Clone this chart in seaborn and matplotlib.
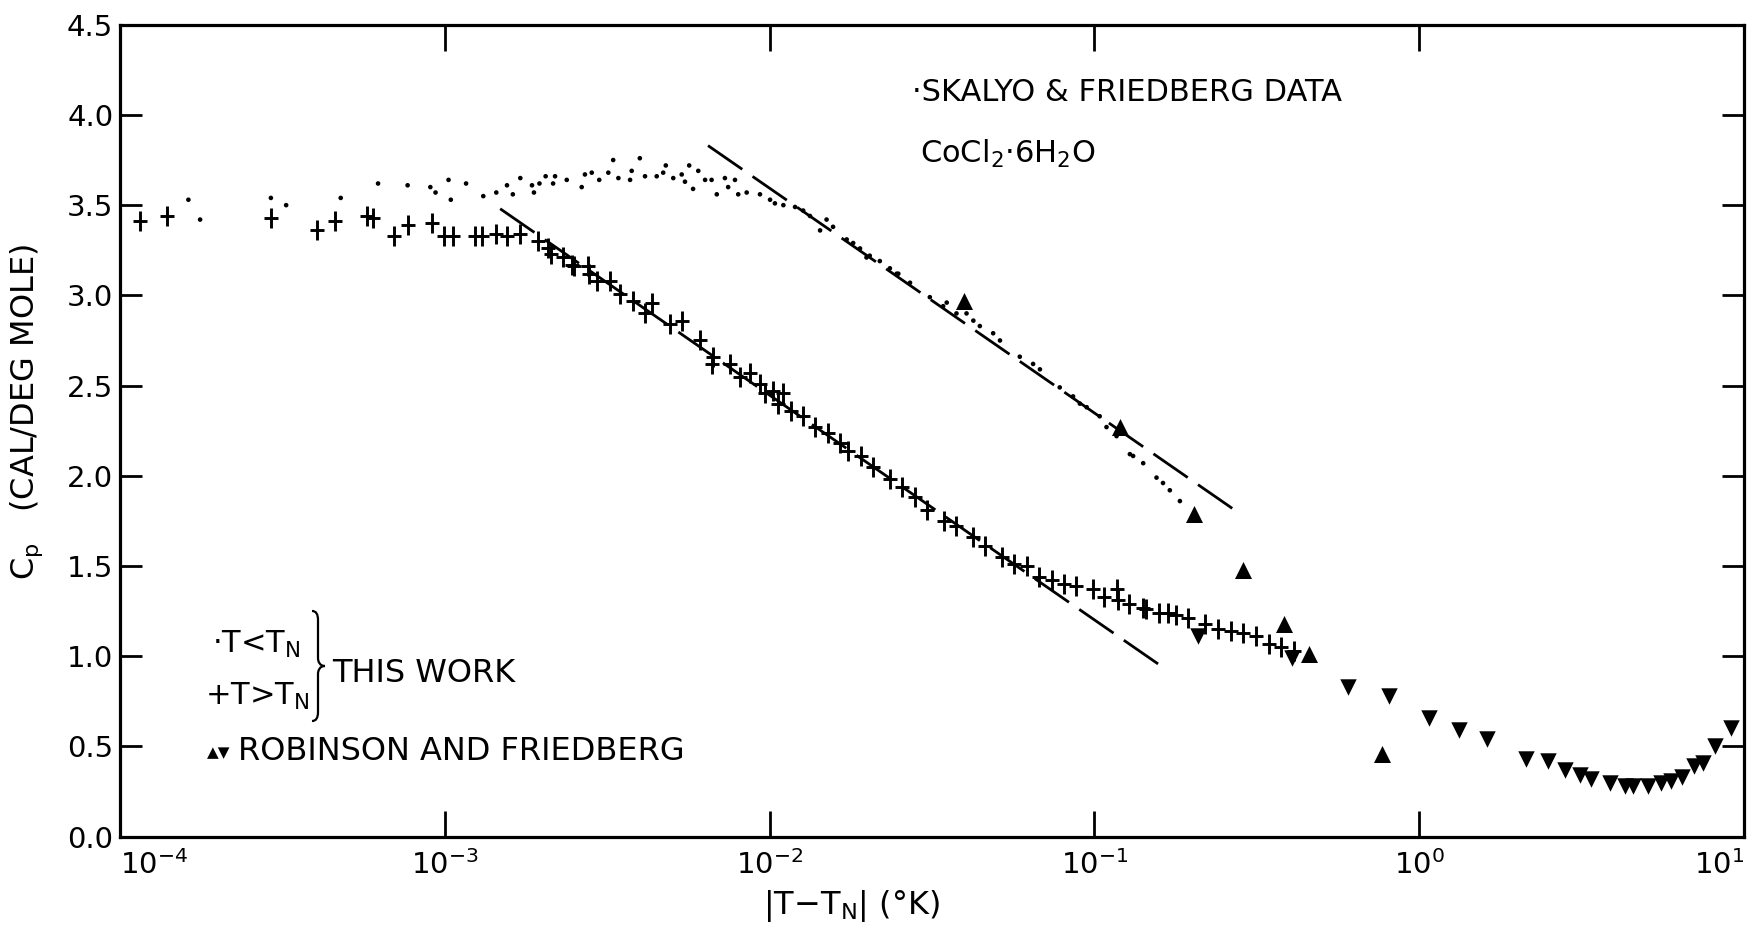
import numpy as np
import matplotlib
matplotlib.use("Agg")
import matplotlib.pyplot as plt
import seaborn as sns
from matplotlib.path import Path
from matplotlib.patches import PathPatch
from matplotlib.ticker import FixedLocator, NullLocator, FormatStrFormatter

# ---------------- data ----------------
# T < T_N  (this work, dots): log10|T-T_N| and Cp
below_log = [-3.790, -3.754, -3.536, -3.489, -3.321, -3.206, -3.115, -3.045, -3.029, -2.989,
             -2.982, -2.935, -2.882, -2.842, -2.809, -2.791, -2.768, -2.732, -2.726, -2.709,
             -2.690, -2.667, -2.661, -2.625, -2.579, -2.569, -2.548, -2.525, -2.497, -2.482,
             -2.466, -2.430, -2.425, -2.400, -2.384, -2.348, -2.328, -2.320, -2.297, -2.271,
             -2.261, -2.248, -2.236, -2.220, -2.199, -2.179, -2.163, -2.138, -2.128, -2.107,
             -2.097, -2.071, -2.030, -1.999, -1.984, -1.958, -1.922, -1.897, -1.876, -1.845,
             -1.825, -1.805, -1.763, -1.743, -1.722, -1.702, -1.692, -1.661, -1.630, -1.609,
             -1.604, -1.568, -1.507, -1.466, -1.455, -1.425, -1.394, -1.373, -1.353, -1.312,
             -1.291, -1.230, -1.189, -1.168, -1.107, -1.066, -1.045, -1.024, -0.984, -0.963,
             -0.932, -0.891, -0.881, -0.850, -0.809, -0.789, -0.768, -0.737]
below_cp = [3.53, 3.42, 3.54, 3.50, 3.54, 3.62, 3.61, 3.60, 3.57, 3.64,
            3.53, 3.62, 3.55, 3.57, 3.61, 3.56, 3.65, 3.61, 3.57, 3.62,
            3.66, 3.62, 3.66, 3.64, 3.60, 3.67, 3.68, 3.64, 3.68, 3.75,
            3.65, 3.64, 3.69, 3.76, 3.66, 3.66, 3.68, 3.72, 3.65, 3.67,
            3.63, 3.72, 3.59, 3.69, 3.64, 3.64, 3.56, 3.65, 3.60, 3.64,
            3.56, 3.57, 3.56, 3.53, 3.51, 3.50, 3.49, 3.47, 3.44, 3.36,
            3.42, 3.38, 3.31, 3.29, 3.26, 3.21, 3.22, 3.19, 3.15, 3.12,
            3.12, 3.07, 2.99, 2.94, 2.96, 2.90, 2.90, 2.86, 2.83, 2.79,
            2.75, 2.66, 2.62, 2.59, 2.49, 2.44, 2.40, 2.38, 2.33, 2.27,
            2.22, 2.12, 2.11, 2.07, 1.99, 1.96, 1.92, 1.86]

# T > T_N  (this work, crosses)
above_log = [-3.940, -3.855, -3.536, -3.394, -3.339, -3.239, -3.221, -3.156, -3.115, -3.039,
             -3.003, -2.974, -2.909, -2.885, -2.844, -2.809, -2.768, -2.715, -2.682, -2.673,
             -2.636, -2.610, -2.603, -2.559, -2.555, -2.533, -2.492, -2.461, -2.420, -2.384,
             -2.364, -2.307, -2.271, -2.215, -2.179, -2.174, -2.123, -2.090, -2.061, -2.030,
             -2.013, -1.989, -1.975, -1.958, -1.936, -1.898, -1.860, -1.821, -1.783, -1.758,
             -1.720, -1.681, -1.630, -1.592, -1.554, -1.515, -1.464, -1.426, -1.375, -1.336,
             -1.285, -1.247, -1.209, -1.171, -1.132, -1.094, -1.056, -1.005, -0.970, -0.931,
             -0.928, -0.893, -0.851, -0.841, -0.802, -0.775, -0.750, -0.711, -0.659, -0.620,
             -0.581, -0.542, -0.503, -0.464, -0.425, -0.386]
above_cp = [3.41, 3.44, 3.43, 3.36, 3.41, 3.44, 3.43, 3.33, 3.39, 3.40,
            3.33, 3.33, 3.33, 3.33, 3.34, 3.33, 3.34, 3.30, 3.26, 3.23,
            3.21, 3.17, 3.16, 3.16, 3.12, 3.08, 3.08, 3.01, 2.97, 2.90,
            2.96, 2.84, 2.86, 2.75, 2.62, 2.66, 2.62, 2.55, 2.57, 2.51,
            2.46, 2.47, 2.40, 2.46, 2.36, 2.33, 2.27, 2.24, 2.18, 2.14,
            2.11, 2.05, 1.98, 1.94, 1.88, 1.81, 1.75, 1.72, 1.66, 1.61,
            1.55, 1.51, 1.50, 1.44, 1.42, 1.40, 1.39, 1.37, 1.33, 1.37,
            1.31, 1.29, 1.27, 1.26, 1.24, 1.24, 1.23, 1.21, 1.18, 1.15,
            1.14, 1.13, 1.11, 1.07, 1.05, 1.03]

# Robinson and Friedberg: up triangles (T < T_N), down triangles (T > T_N)
rf_up_log = [-1.403, -0.922, -0.695, -0.542, -0.416, -0.338, -0.114]
rf_up_cp = [2.97, 2.27, 1.79, 1.48, 1.18, 1.01, 0.46]
rf_down_log = [-0.682, -0.393, -0.218, -0.094, 0.029, 0.123, 0.208, 0.328, 0.395, 0.448,
               0.496, 0.529, 0.587, 0.633, 0.659, 0.704, 0.743, 0.775, 0.808, 0.847,
               0.875, 0.912, 0.960]
rf_down_cp = [1.11, 0.99, 0.83, 0.78, 0.66, 0.59, 0.54, 0.43, 0.42, 0.37,
              0.34, 0.32, 0.30, 0.28, 0.28, 0.28, 0.30, 0.31, 0.33, 0.39,
              0.41, 0.50, 0.60]

# dashed logarithmic fit lines (end points)
fit_upper_log = [-2.19, -0.56]
fit_upper_cp = [3.83, 1.80]
fit_lower_log = [-2.83, -0.774]
fit_lower_cp = [3.48, 0.92]

x_ticks = [1e-4, 1e-3, 1e-2, 1e-1, 1e0, 1e1]
x_ticklabels = [r"$10^{-4}$", r"$10^{-3}$", r"$10^{-2}$", r"$10^{-1}$", r"$10^{0}$", r"$10^{1}$"]
y_ticks = [0.0, 0.5, 1.0, 1.5, 2.0, 2.5, 3.0, 3.5, 4.0, 4.5]

# ---------------- figure ----------------
sns.set_style("ticks")
plt.rcParams['font.family'] = ['DejaVu Sans']
plt.rcParams['mathtext.fontset'] = 'dejavusans'
for key in ['text.color', 'axes.labelcolor', 'xtick.color', 'ytick.color',
            'xtick.labelcolor', 'ytick.labelcolor', 'axes.edgecolor']:
    plt.rcParams[key] = 'black'

W, H = 1761, 927
fig = plt.figure(figsize=(W / 100, H / 100), dpi=100)
ax = fig.add_axes([120.2 / W, 1 - 836.7 / H, 1623.8 / W, 812 / H])
ax.set_xscale('log')
ax.set_xlim(1e-4, 10)
ax.set_ylim(0, 4.5)

def tx(v):
    return 10.0 ** np.asarray(v)

# fits
for lg, cp in [(fit_upper_log, fit_upper_cp), (fit_lower_log, fit_lower_cp)]:
    sns.lineplot(x=tx(lg), y=cp, ax=ax, color='black', linewidth=2.0,
                 linestyle=(0, (15, 4.5)), estimator=None, sort=False)

# T < T_N dots
sns.scatterplot(x=tx(below_log), y=below_cp, ax=ax, marker='o', s=11,
                color='black', edgecolor='none', linewidth=0)
# T > T_N crosses (long vertical stroke, short horizontal)
sns.scatterplot(x=tx(above_log), y=above_cp, ax=ax, marker='|', s=200,
                color='black', linewidth=2.1)
sns.scatterplot(x=tx(above_log), y=above_cp, ax=ax, marker='_', s=90,
                color='black', linewidth=2.1)
# Robinson & Friedberg
sns.scatterplot(x=tx(rf_up_log), y=rf_up_cp, ax=ax, marker='^', s=150,
                color='black', edgecolor='black', linewidth=0)
sns.scatterplot(x=tx(rf_down_log), y=rf_down_cp, ax=ax, marker='v', s=140,
                color='black', edgecolor='black', linewidth=0)

# axes styling
ax.xaxis.set_major_locator(FixedLocator(x_ticks))
ax.xaxis.set_minor_locator(NullLocator())
ax.set_xticklabels(x_ticklabels)
ax.set_yticks(y_ticks)
ax.yaxis.set_major_formatter(FormatStrFormatter('%.1f'))
ax.tick_params(which='major', direction='in', top=True, right=True,
               width=2.0, labelsize=21, colors='black')
ax.tick_params(axis='x', length=19, pad=10)
ax.tick_params(axis='y', length=16, pad=5)
# the last x label sits against the right edge, as in the original
xl = ax.get_xticklabels()
xl[-1].set_horizontalalignment('right')
xl[0].set_horizontalalignment('left')
for sp in ax.spines.values():
    sp.set_linewidth(2.3)
    sp.set_color('black')

ax.set_xlabel(r"|T$-$T$_\mathregular{N}$| (°K)", fontsize=23)
ax.xaxis.set_label_coords((851 - 120.2) / 1623.8, (836.7 - 888) / 812)
ax.set_ylabel(r"C$_\mathregular{p}$   (CAL/DEG MOLE)", fontsize=23)
ax.yaxis.set_label_coords((45 - 120.2) / 1623.8, (836.7 - 412) / 812)

def fp(px, py):
    return px / W, 1 - py / H

fig.text(*fp(912, 101), "·SKALYO & FRIEDBERG DATA", fontsize=22, ha='left', va='baseline')
fig.text(*fp(920, 163), r"CoCl$_\mathregular{2}$·6H$_\mathregular{2}$O", fontsize=22,
         ha='left', va='baseline')
fig.text(*fp(212, 653), r"·T<T$_\mathregular{N}$", fontsize=22, ha='left', va='baseline')
fig.text(*fp(205, 705), r"+T>T$_\mathregular{N}$", fontsize=22, ha='left', va='baseline')
fig.text(*fp(332, 682), "THIS WORK", fontsize=23, ha='left', va='baseline')
fig.text(*fp(207, 757), "▲▼", fontsize=11, ha='left', va='baseline')
fig.text(*fp(238, 760), "ROBINSON AND FRIEDBERG", fontsize=23, ha='left', va='baseline')

# curly brace
bp = [(312, 611), (316, 611), (318, 614), (318, 620),
      (318, 658),
      (318, 662), (320, 666), (325, 666),
      (320, 666), (318, 670), (318, 674),
      (318, 712),
      (318, 718), (316, 721), (312, 721)]
codes = [Path.MOVETO, Path.CURVE4, Path.CURVE4, Path.CURVE4,
         Path.LINETO,
         Path.CURVE4, Path.CURVE4, Path.CURVE4,
         Path.CURVE4, Path.CURVE4, Path.CURVE4,
         Path.LINETO,
         Path.CURVE4, Path.CURVE4, Path.CURVE4]
brace = Path([fp(x, y) for x, y in bp], codes)
fig.patches.append(PathPatch(brace, transform=fig.transFigure, fill=False,
                             lw=1.6, edgecolor='black'))

fig.savefig("out.png", dpi=100, facecolor='white')
